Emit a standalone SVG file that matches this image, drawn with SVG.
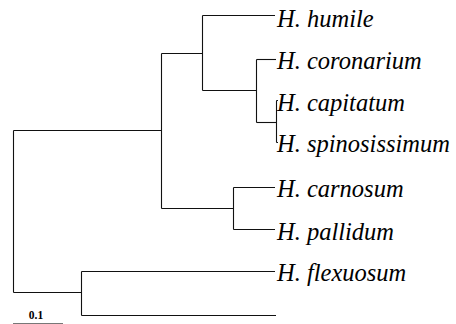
<svg xmlns="http://www.w3.org/2000/svg" width="456" height="324" viewBox="0 0 456 324">
<style>
.br{fill:none;stroke:#111;stroke-width:1.1}
.lab{font-family:"Liberation Serif","Times New Roman",serif;font-style:italic;font-size:24.5px;fill:#000}
.sc{font-family:"Liberation Serif","Times New Roman",serif;font-weight:bold;font-size:11.5px;fill:#000}
</style>
<rect width="456" height="324" fill="#fff"/>
<g id="connectors">
<path class="br" d="M13.5,130.5 V292.5"/>
<path class="br" d="M13.5,130.5 H161.5"/>
<path class="br" d="M13.5,292.5 H81.5"/>
<path class="br" d="M161.5,53.5 V208.5"/>
<path class="br" d="M161.5,53.5 H202.5"/>
<path class="br" d="M161.5,208.5 H233.5"/>
<path class="br" d="M202.5,15.5 V90.5"/>
<path class="br" d="M202.5,15.5 H275"/>
<path class="br" d="M202.5,90.5 H256.5"/>
<path class="br" d="M256.5,59.5 V122.5"/>
<path class="br" d="M256.5,59.5 H276"/>
<path class="br" d="M256.5,122.5 H276.5"/>
<path class="br" d="M276.5,100.5 V142.5"/>
<path class="br" d="M276.5,100.5 H278"/>
<path class="br" d="M276.5,142.5 H278"/>
<path class="br" d="M233.5,187.5 V229.5"/>
<path class="br" d="M233.5,187.5 H275"/>
<path class="br" d="M233.5,229.5 H275"/>
<path class="br" d="M81.5,271.5 V315.5"/>
<path class="br" d="M81.5,271.5 H275"/>
<path class="br" d="M81.5,315.5 H276"/>
</g>
<g id="humile"><text class="lab" x="277" y="26.5">H. humile</text></g>
<g id="coronarium"><text class="lab" x="277" y="69">H. coronarium</text></g>
<g id="capitatum"><text class="lab" x="277" y="110.5">H. capitatum</text></g>
<g id="spinosissimum"><text class="lab" x="277" y="152">H. spinosissimum</text></g>
<g id="carnosum"><text class="lab" x="277" y="197">H. carnosum</text></g>
<g id="pallidum"><text class="lab" x="277" y="239.5">H. pallidum</text></g>
<g id="flexuosum"><text class="lab" x="277" y="281">H. flexuosum</text></g>
<g id="scale">
<line x1="13" y1="323.5" x2="63" y2="323.5" stroke="#777" stroke-width="1"/>
<text class="sc" x="36" y="319" text-anchor="middle">0.1</text>
</g>
</svg>
